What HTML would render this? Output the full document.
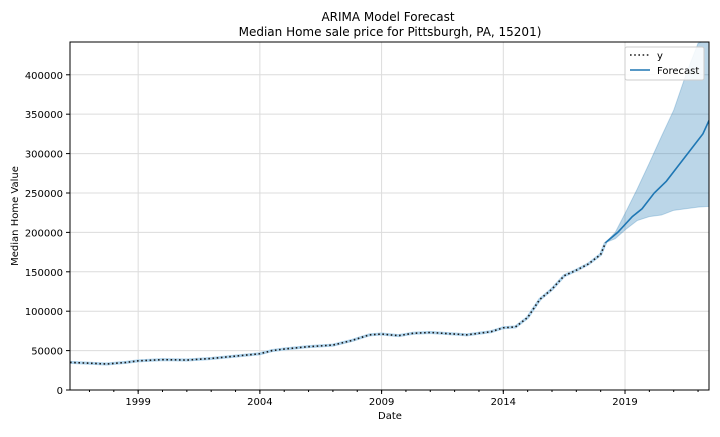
<!DOCTYPE html>
<html><head><meta charset="utf-8"><style>
body{margin:0;background:#fff;font-family:"Liberation Sans","DejaVu Sans",sans-serif}
svg text{font-family:"DejaVu Sans","Liberation Sans",sans-serif;fill:#000}
</style></head><body>
<svg id="c" width="720" height="432"></svg>
<script>
const obsYears=[1996.2,1997,1997.7,1998.5,1999,2000,2001,2002,2003,2004,2004.5,2005,2006,2007,2007.8,2008.5,2009,2009.7,2010.3,2011,2012,2012.5,2013,2013.5,2014,2014.5,2015,2015.5,2016,2016.5,2017,2017.5,2018,2018.2];
const obsValues=[35000,34000,33000,35000,37000,38500,38000,40000,43000,46000,50000,52000,55000,57000,63000,70000,71000,69000,72000,73000,71000,70000,72000,74000,79000,80000,92000,115000,128000,145000,152000,160000,172000,187000];
const fcYears=[2018.2,2018.7,2019.3,2019.7,2020.2,2020.7,2021.2,2021.7,2022.2,2022.45];
const fcValues=[187000,200000,220000,230000,250000,265000,285000,305000,325000,342000];
const ciYears=[2018.2,2018.6,2019,2019.5,2020,2020.5,2021,2021.5,2022,2022.45];
const ciLower=[187000,192000,203000,215000,220000,222000,228000,230000,232000,233000];
const ciUpper=[187000,200000,224000,255000,288000,322000,355000,400000,440000,445000];
const yTicks=[0,50000,100000,150000,200000,250000,300000,350000,400000];
const xTicks=[1999,2004,2009,2014,2019];

const L=70,R=709,T=42,B=390,x0=1996.2,x1=2022.45,yMax=441600;
const sx=v=>L+(v-x0)/(x1-x0)*(R-L), sy=v=>B-v/yMax*(B-T);
const svg=document.getElementById('c'),NS='http://www.w3.org/2000/svg';
function el(t,a,txt){const e=document.createElementNS(NS,t);for(const k in a)e.setAttribute(k,a[k]);if(txt!=null)e.textContent=txt;svg.appendChild(e);return e;}
let e;
e=el('defs',{});e.innerHTML='<clipPath id="cp"><rect x="70" y="42" width="639" height="348"/></clipPath>';
for(const v of yTicks){const y=sy(v);
e=el('line',{x1:L,x2:R,y1:y,y2:y,stroke:'#dcdcdc'});

el('line',{x1:L-4,x2:L,y1:y,y2:y,stroke:'#000'});
e=el('text',{x:L-7,y:y+4,'text-anchor':'end','font-size':10},String(v));
}
for(let yr=1997;yr<=2022;yr++){el('line',{x1:sx(yr),x2:sx(yr),y1:B,y2:B+2,stroke:'#000'});}
for(const v of xTicks){const x=sx(v);
e=el('line',{x1:x,x2:x,y1:T,y2:B,stroke:'#dcdcdc'});

el('line',{x1:x,x2:x,y1:B,y2:B+4,stroke:'#000'});
e=el('text',{x:x,y:B+15,'text-anchor':'middle','font-size':10},String(v));
}
let d=ciYears.map((v,i)=>(i?'L':'M')+sx(v)+','+sy(ciUpper[i])).join('');
for(let i=ciYears.length-1;i>=0;i--)d+='L'+sx(ciYears[i])+','+sy(ciLower[i]);
e=el('path',{d:d+'Z',fill:'#1f77b4','fill-opacity':0.3,stroke:'#1f77b4','stroke-opacity':0.25,'clip-path':'url(#cp)'});

const pts=(xs,ys)=>xs.map((v,i)=>sx(v)+','+sy(ys[i])).join(' ');
e=el('polyline',{points:pts(obsYears,obsValues),fill:'none',stroke:'#aed3ec','stroke-width':3});

e=el('polyline',{points:pts(obsYears,obsValues),fill:'none',stroke:'#1a1a1a','stroke-width':1.6,'stroke-dasharray':'1.6,2.6'});

e=el('polyline',{points:pts(fcYears,fcValues),fill:'none',stroke:'#1f77b4','stroke-width':1.6,'clip-path':'url(#cp)'});

e=el('rect',{x:L,y:T,width:R-L,height:B-T,fill:'none',stroke:'#000','stroke-width':1});

e=el('rect',{x:625,y:47,width:79,height:33,fill:'#fff','fill-opacity':0.85,stroke:'#ccc',rx:2});

el('line',{x1:630,x2:650,y1:55,y2:55,stroke:'#1a1a1a','stroke-width':1.6,'stroke-dasharray':'1.6,2.6'});
e=el('text',{x:657,y:59,'font-size':10},'y');
el('line',{x1:630,x2:650,y1:70,y2:70,stroke:'#1f77b4','stroke-width':1.6});
e=el('text',{x:657,y:74,'font-size':10},'Forecast');
e=el('text',{x:388,y:21,'text-anchor':'middle','font-size':12},'ARIMA Model Forecast');
e=el('text',{x:390,y:36,'text-anchor':'middle','font-size':12},'Median Home sale price for Pittsburgh, PA, 15201)');
e=el('text',{x:390,y:419,'text-anchor':'middle','font-size':10},'Date');
e=el('text',{x:18,y:216,'text-anchor':'middle','font-size':10,transform:'rotate(-90 18 216)'},'Median Home Value');
</script>
</body></html>
